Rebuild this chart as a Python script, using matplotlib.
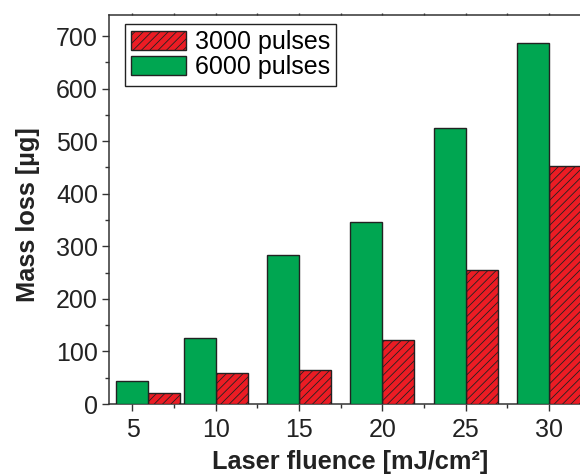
import numpy as np
import matplotlib
matplotlib.use("Agg")
import matplotlib.pyplot as plt

# data
fluence = np.array([5, 10, 15, 20, 25, 30])
loss_3000 = [21, 59, 65, 122, 255, 452]
loss_6000 = [44, 125, 284, 347, 525, 686]
labels = ["3000 pulses", "6000 pulses"]

plt.rcParams['font.family'] = ['Liberation Sans', 'DejaVu Sans']
plt.rcParams['hatch.linewidth'] = 0.6

red = '#ec1c24'
green = '#00a651'
edge = '#222222'

fig = plt.figure(figsize=(5.8, 4.76), dpi=100)
# axes runs past the right edge, like the cropped original
ax = fig.add_axes([109 / 580, 1 - 404 / 476, (599 - 109) / 580, (404 - 15) / 476])

w = 1.92
# first group sits half a bar to the right in the original
shift = np.where(fluence == fluence.min(), w / 2, 0.0)
ax.bar(fluence + shift, loss_3000, width=w, align='edge', color=red,
       edgecolor=edge, linewidth=1.0, hatch='////', label=labels[0], zorder=3)
ax.bar(fluence + shift - w, loss_6000, width=w, align='edge', color=green,
       edgecolor=edge, linewidth=1.0, label=labels[1], zorder=3)

ax.set_xlim(3.59, 33)
ax.set_ylim(0, 740)
ax.set_xticks(fluence)
ax.set_xticks(np.arange(7.5, 33, 5), minor=True)
ax.set_yticks(np.arange(0, 701, 100))
ax.set_yticks(np.arange(50, 701, 100), minor=True)

for s in ax.spines.values():
    s.set_linewidth(1.1)
    s.set_color('#333333')

ax.tick_params(axis='both', which='major', direction='out', length=5, width=1,
               color='#333333', labelsize=18, labelcolor='#222222')
ax.tick_params(axis='both', which='minor', direction='out', length=3.2, width=1,
               color='#333333')
ax.tick_params(axis='x', which='major', pad=5)
ax.tick_params(axis='y', which='major', pad=3)

# tiny marks on the top spine
top = ax.secondary_xaxis('top')
top.set_xticks(fluence)
top.set_xticks(np.arange(7.5, 33, 5), minor=True)
top.tick_params(which='both', direction='out', length=1.2, width=1,
                color='#333333', labeltop=False)
top.spines['top'].set_visible(False)

ax.set_xlabel('Laser fluence [mJ/cm²]', fontsize=18.3, fontweight='bold',
              color='#222222')
ax.set_ylabel('Mass loss [µg]', fontsize=18.3, fontweight='bold',
              color='#222222')
ax.xaxis.set_label_coords((350 - 109) / 490, -0.117)
ax.yaxis.set_label_coords(-0.141, 0.486)

leg = ax.legend(loc='upper left', bbox_to_anchor=(0.032, 0.977), fontsize=18,
                frameon=True, fancybox=False, framealpha=1, edgecolor='#222222',
                handlelength=2.2, handleheight=0.8, handletextpad=0.35,
                labelspacing=0.05, borderpad=0.25, borderaxespad=0)
leg.get_frame().set_linewidth(1.0)

fig.savefig('out.png', dpi=100)
